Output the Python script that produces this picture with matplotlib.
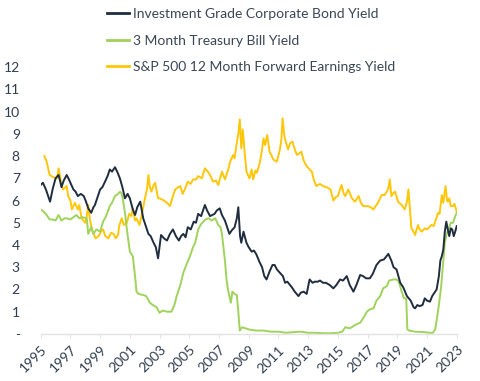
import matplotlib
matplotlib.use("Agg")
import matplotlib.pyplot as plt
from matplotlib.ticker import FixedLocator, FixedFormatter

plt.rcParams['font.family'] = ['Lato', 'DejaVu Sans']

# ---------------- data ----------------
bond_x = [1995.0, 1995.15, 1995.35, 1995.63, 1995.8, 1996.0, 1996.2, 1996.3, 1996.4, 1996.55, 1996.75, 1996.9,
          1997.0, 1997.2, 1997.35, 1997.5, 1997.7, 1997.9, 1998.05, 1998.2, 1998.4, 1998.55, 1998.65, 1998.8,
          1999.0, 1999.15, 1999.33, 1999.5, 1999.65, 1999.8, 2000.0, 2000.15, 2000.33, 2000.5, 2000.67, 2000.85,
          2001.0, 2001.2, 2001.35, 2001.5, 2001.7, 2001.9, 2002.1, 2002.25, 2002.4, 2002.6, 2002.75, 2002.9,
          2003.1, 2003.3, 2003.5, 2003.7, 2003.9, 2004.1, 2004.3, 2004.45, 2004.6, 2004.75, 2004.9, 2005.1,
          2005.3, 2005.45, 2005.6, 2005.8, 2006.05, 2006.2, 2006.4, 2006.55, 2006.7, 2006.85, 2007.05, 2007.2,
          2007.4, 2007.55, 2007.7, 2007.85, 2008.05, 2008.2, 2008.3, 2008.42, 2008.5, 2008.65, 2008.85, 2009.0,
          2009.2, 2009.35, 2009.5, 2009.75, 2009.9, 2010.05, 2010.2, 2010.4, 2010.6, 2010.75, 2010.9, 2011.1,
          2011.3, 2011.45, 2011.6, 2011.9, 2012.1, 2012.35, 2012.5, 2012.7, 2012.9, 2013.1, 2013.3, 2013.45,
          2013.65, 2013.8, 2014.0, 2014.2, 2014.45, 2014.7, 2014.9, 2015.15, 2015.35, 2015.6, 2015.8, 2016.05,
          2016.25, 2016.5, 2016.7, 2016.9, 2017.15, 2017.35, 2017.6, 2017.85, 2018.1, 2018.4, 2018.6, 2018.75,
          2018.95, 2019.2, 2019.4, 2019.65, 2019.9, 2020.1, 2020.2, 2020.35, 2020.5, 2020.7, 2020.85, 2021.0,
          2021.2, 2021.35, 2021.5, 2021.65, 2021.8, 2021.9, 2022.0, 2022.1, 2022.2, 2022.3, 2022.4, 2022.5,
          2022.6, 2022.7, 2022.8, 2022.9, 2023.0]
bond_y = [6.7, 6.8, 6.5, 5.95, 6.5, 7.0, 7.15, 6.9, 6.6, 6.9, 7.15, 6.95,
          6.8, 6.5, 6.4, 6.2, 6.3, 6.2, 5.95, 5.65, 5.45, 5.7, 5.8, 6.1,
          6.5, 6.6, 6.85, 7.1, 7.4, 7.3, 7.5, 7.3, 7.0, 6.6, 6.1, 6.3,
          6.1, 5.6, 5.35, 5.7, 5.95, 5.2, 4.8, 4.5, 4.4, 4.1, 3.9, 3.4,
          4.45, 4.3, 4.2, 4.5, 4.7, 4.4, 4.2, 4.4, 4.5, 4.35, 4.8, 4.7,
          5.05, 5.0, 5.4, 5.3, 5.8, 5.55, 5.3, 5.35, 5.4, 5.55, 5.65, 5.35,
          5.1, 4.8, 4.5, 4.65, 4.8, 5.2, 5.7, 4.4, 4.1, 4.6, 4.1, 3.9,
          3.7, 3.75, 3.6, 3.2, 3.0, 2.6, 2.45, 2.8, 3.1, 3.1, 2.9, 2.75,
          2.6, 2.3, 2.35, 2.1, 1.9, 1.7, 1.85, 1.9, 1.8, 2.45, 2.3, 2.35,
          2.35, 2.4, 2.3, 2.3, 2.2, 2.05, 2.2, 2.45, 2.4, 2.6, 2.2, 1.9,
          2.2, 2.65, 2.6, 2.5, 2.5, 2.7, 3.1, 3.3, 3.35, 3.6, 3.3, 3.0,
          2.9, 2.3, 2.1, 1.7, 1.5, 1.2, 1.15, 1.3, 1.25, 1.3, 1.6, 1.5,
          1.45, 1.7, 1.85, 2.0, 2.6, 3.3, 3.5, 3.8, 4.6, 5.05, 4.7, 4.4,
          4.75, 4.7, 4.4, 4.6, 4.85]

tbill_x = [1995.0, 1995.2, 1995.4, 1995.6, 1995.8, 1996.0, 1996.2, 1996.4, 1996.6, 1996.75, 1997.0, 1997.2,
           1997.4, 1997.6, 1997.8, 1998.1, 1998.2, 1998.4, 1998.55, 1998.75, 1999.0, 1999.2, 1999.4, 1999.65,
           1999.8, 2000.0, 2000.2, 2000.35, 2000.45, 2000.55, 2000.7, 2000.8, 2000.9, 2001.0, 2001.1, 2001.2,
           2001.35, 2001.45, 2001.6, 2001.9, 2002.1, 2002.35, 2002.55, 2002.8, 2003.0, 2003.2, 2003.5, 2003.8,
           2004.0, 2004.15, 2004.4, 2004.6, 2004.8, 2005.05, 2005.25, 2005.4, 2005.6, 2005.8, 2005.95, 2006.1,
           2006.3, 2006.5, 2006.75, 2006.95, 2007.1, 2007.2, 2007.4, 2007.5, 2007.6, 2007.8, 2007.9, 2008.05,
           2008.2, 2008.3, 2008.4, 2008.55, 2008.8, 2009.0, 2009.5, 2010.0, 2010.5, 2011.0, 2011.5, 2012.0,
           2012.5, 2013.0, 2013.5, 2014.0, 2014.5, 2015.0, 2015.3, 2015.5, 2015.8, 2016.05, 2016.3, 2016.5,
           2016.8, 2016.95, 2017.15, 2017.4, 2017.6, 2017.85, 2018.05, 2018.3, 2018.45, 2018.75, 2018.95, 2019.1,
           2019.3, 2019.45, 2019.6, 2019.68, 2019.8, 2020.2, 2020.8, 2021.2, 2021.4, 2021.55, 2021.65, 2021.8,
           2021.95, 2022.1, 2022.2, 2022.3, 2022.45, 2022.6, 2022.75, 2022.9, 2023.0]
tbill_y = [5.6, 5.5, 5.35, 5.15, 5.15, 5.1, 5.35, 5.1, 5.2, 5.2, 5.15, 5.25,
           5.35, 5.2, 5.25, 5.2, 4.5, 4.8, 4.5, 4.7, 4.6, 5.05, 5.3, 5.75,
           5.9, 6.2, 6.3, 6.4, 6.3, 6.0, 5.3, 4.7, 4.2, 3.7, 3.6, 3.5,
           2.6, 1.9, 1.8, 1.75, 1.7, 1.4, 1.3, 1.2, 0.95, 1.05, 1.0, 1.0,
           1.3, 1.7, 2.2, 2.75, 3.1, 3.5, 3.9, 4.1, 4.7, 4.95, 5.05, 5.15,
           5.2, 5.1, 5.2, 4.9, 4.8, 4.5, 3.3, 2.5, 2.0, 1.4, 1.9, 1.8,
           1.75, 1.0, 0.15, 0.3, 0.25, 0.2, 0.15, 0.15, 0.1, 0.1, 0.05, 0.08,
           0.1, 0.05, 0.05, 0.03, 0.03, 0.05, 0.1, 0.3, 0.25, 0.35, 0.45, 0.5,
           0.8, 1.0, 1.1, 1.15, 1.5, 1.7, 2.05, 2.15, 2.4, 2.45, 2.45, 2.35,
           1.9, 1.6, 1.6, 0.2, 0.15, 0.1, 0.08, 0.05, 0.05, 0.2, 0.6, 1.3,
           2.1, 3.3, 4.1, 4.45, 4.7, 5.0, 5.0, 5.3, 5.45]

spx_x = [1995.25, 1995.4, 1995.6, 1995.85, 1996.1, 1996.2, 1996.3, 1996.4, 1996.5, 1996.75, 1996.85, 1997.0,
         1997.1, 1997.3, 1997.5, 1997.6, 1997.75, 1998.0, 1998.1, 1998.2, 1998.3, 1998.45, 1998.55, 1998.7,
         1998.9, 1999.05, 1999.2, 1999.35, 1999.55, 1999.75, 1999.9, 2000.05, 2000.2, 2000.3, 2000.45, 2000.6,
         2000.8, 2000.95, 2001.1, 2001.2, 2001.35, 2001.45, 2001.65, 2001.8, 2002.0, 2002.15, 2002.25, 2002.35,
         2002.45, 2002.6, 2002.7, 2002.9, 2003.0, 2003.3, 2003.5, 2003.7, 2003.9, 2004.05, 2004.25, 2004.4,
         2004.55, 2004.7, 2004.9, 2005.1, 2005.25, 2005.45, 2005.6, 2005.85, 2006.05, 2006.25, 2006.4, 2006.6,
         2006.8, 2006.95, 2007.2, 2007.4, 2007.6, 2007.75, 2007.95, 2008.05, 2008.2, 2008.3, 2008.4, 2008.5,
         2008.6, 2008.75, 2008.85, 2009.05, 2009.2, 2009.3, 2009.45, 2009.55, 2009.75, 2009.9, 2010.0, 2010.1,
         2010.25, 2010.4, 2010.55, 2010.65, 2010.9, 2011.1, 2011.2, 2011.28, 2011.4, 2011.45, 2011.65, 2011.8,
         2011.95, 2012.1, 2012.25, 2012.45, 2012.55, 2012.7, 2012.9, 2013.1, 2013.25, 2013.35, 2013.55, 2013.8,
         2014.0, 2014.25, 2014.5, 2014.7, 2014.85, 2015.0, 2015.25, 2015.4, 2015.5, 2015.7, 2015.95, 2016.15,
         2016.4, 2016.55, 2016.7, 2017.05, 2017.2, 2017.4, 2017.7, 2017.95, 2018.15, 2018.3, 2018.4, 2018.5,
         2018.6, 2018.75, 2018.85, 2019.05, 2019.3, 2019.5, 2019.65, 2019.75, 2019.85, 2019.95, 2020.1, 2020.2,
         2020.3, 2020.4, 2020.5, 2020.65, 2020.85, 2021.0, 2021.15, 2021.3, 2021.45, 2021.55, 2021.75, 2021.85,
         2022.0, 2022.1, 2022.25, 2022.35, 2022.4, 2022.5, 2022.6, 2022.75, 2022.85, 2023.0]
spx_y = [8.0, 7.75, 7.15, 7.05, 7.0, 7.45, 7.1, 6.7, 6.5, 6.65, 6.2, 6.0,
         5.6, 5.9, 5.6, 5.8, 5.2, 5.0, 5.3, 5.8, 5.2, 4.7, 4.5, 4.3,
         4.4, 4.6, 4.7, 4.4, 4.3, 4.55, 4.5, 4.3, 4.45, 4.9, 5.2, 4.9,
         5.0, 5.4, 5.3, 5.65, 5.1, 5.2, 4.9, 5.35, 6.05, 6.5, 7.15, 6.6,
         6.4, 6.7, 6.8, 6.1, 6.1, 6.0, 5.9, 5.75, 6.2, 6.5, 6.6, 6.65,
         6.3, 6.5, 6.85, 6.75, 6.95, 6.95, 7.1, 7.0, 7.45, 7.3, 7.15, 6.85,
         6.9, 6.7, 7.3, 6.95, 7.35, 7.75, 8.05, 7.9, 8.6, 9.0, 9.65, 8.35,
         9.2, 8.0, 7.3, 7.0, 7.4, 6.95, 7.35, 7.25, 7.7, 8.3, 8.8, 8.5,
         8.95, 8.2, 8.0, 7.85, 7.75, 8.3, 8.75, 9.7, 8.9, 8.75, 8.3, 8.6,
         8.65, 8.3, 8.05, 8.15, 8.2, 7.8, 7.55, 7.4, 7.3, 7.0, 6.65, 6.75,
         6.65, 6.6, 6.5, 6.0, 6.15, 6.2, 6.7, 6.3, 6.2, 6.5, 6.1, 5.95,
         6.2, 5.9, 5.75, 5.75, 5.7, 5.6, 5.9, 6.25, 6.25, 6.4, 6.55, 6.95,
         6.2, 6.35, 6.4, 5.95, 5.8, 5.6, 5.95, 6.5, 5.6, 4.75, 4.6, 4.45,
         4.7, 4.9, 4.7, 4.6, 4.75, 4.7, 4.8, 4.9, 4.85, 5.05, 5.45, 5.4,
         6.25, 5.9, 6.65, 6.0, 5.95, 6.1, 5.75, 5.75, 5.85, 5.5]

series_labels = ["Investment Grade Corporate Bond Yield",
                 "3 Month Treasury Bill Yield",
                 "S&P 500 12 Month Forward Earnings Yield"]
x_ticks = list(range(1995, 2024, 2))
x_ticklabels = [str(y) for y in x_ticks]
y_ticks = list(range(0, 13))
y_ticklabels = ["-"] + [str(v) for v in range(1, 13)]

# ---------------- plot ----------------
fig = plt.figure(figsize=(4.8, 3.81), dpi=100)
ax = fig.add_axes([40.7 / 480, 1 - 333.9 / 381, (456.7 - 40.7) / 480, (333.9 - 67.2) / 381])

navy = "#1f2d3f"
green = "#9fd35c"
yellow = "#ffc60a"
text_col = "#2f3d4e"

l1, = ax.plot(bond_x, bond_y, color=navy, lw=1.4, label=series_labels[0], zorder=3)
l2, = ax.plot(tbill_x, tbill_y, color=green, lw=1.4, label=series_labels[1], zorder=2)
l3, = ax.plot(spx_x, spx_y, color=yellow, lw=1.4, label=series_labels[2], zorder=1)

ax.set_xlim(1995, 2023)
ax.set_ylim(0, 12)

for s in ["top", "right", "left"]:
    ax.spines[s].set_visible(False)
ax.spines["bottom"].set_color("#e3e3e3")
ax.spines["bottom"].set_linewidth(1.0)

ax.yaxis.set_major_locator(FixedLocator(y_ticks))
ax.yaxis.set_major_formatter(FixedFormatter(y_ticklabels))
ax.tick_params(axis="y", length=0, pad=15, labelsize=10, labelcolor=text_col)

ax.xaxis.set_major_locator(FixedLocator(x_ticks))
ax.xaxis.set_major_formatter(FixedFormatter(x_ticklabels))
ax.tick_params(axis="x", length=3, color="#e3e3e3", pad=4, labelsize=10, labelcolor=text_col)
for lab in ax.get_xticklabels():
    lab.set_rotation(45)
    lab.set_ha("right")
    lab.set_va("top")
    lab.set_rotation_mode("anchor")

leg = fig.legend(handles=[l1, l2, l3], loc="upper left", bbox_to_anchor=(107 / 480, 1 - 8 / 381),
                 frameon=False, fontsize=10, handlelength=1.55, handletextpad=0.3,
                 labelspacing=1.05, borderpad=0, borderaxespad=0)
for t in leg.get_texts():
    t.set_color("#3a4656")
for h in leg.legend_handles:
    h.set_linewidth(2.0)

fig.savefig("out.png", dpi=100)
